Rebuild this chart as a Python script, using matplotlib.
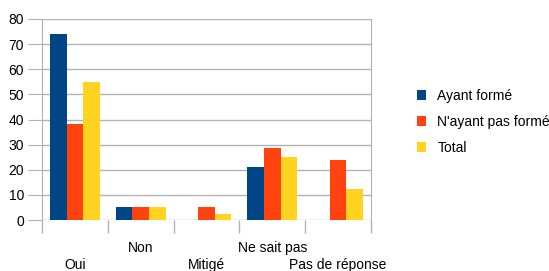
import numpy as np
import matplotlib.pyplot as plt

plt.rcParams['font.family'] = ['Liberation Sans', 'DejaVu Sans']

categories = ['Oui', 'Non', 'Mitigé', 'Ne sait pas', 'Pas de réponse']
ayant_forme = [74, 5.3, 0, 21, 0]
nayant_pas_forme = [38.3, 5, 5, 28.8, 24]
total = [55, 5, 2.5, 25, 12.4]
series_names = ['Ayant formé', "N'ayant pas formé", 'Total']
colors = ['#004586', '#ff420e', '#ffd320']

fig = plt.figure(figsize=(5.49, 2.71), dpi=100)
ax = fig.add_axes([0.0765, 0.188, 0.599, 0.742])

x = np.arange(len(categories))
w = 0.254
for i, (vals, name, c) in enumerate(zip([ayant_forme, nayant_pas_forme, total], series_names, colors)):
    ax.bar(x + (i - 1) * w, vals, w, color=c, label=name, zorder=3)

ax.set_xlim(-0.5, len(categories) - 0.5)
ax.set_ylim(0, 80)
ax.set_yticks(range(0, 81, 10))
ax.grid(axis='y', color='#b3b3b3', linewidth=1, zorder=0)
ax.tick_params(axis='y', length=10, color='#b3b3b3', labelsize=10, pad=3)

# ticks between categories, labels staggered on two rows
ax.set_xticks(np.arange(len(categories) + 1) - 0.5)
ax.set_xticklabels([])
ax.tick_params(axis='x', length=9, color='#b3b3b3', width=1)
for i, cat in enumerate(categories):
    y = -0.224 if i % 2 == 0 else -0.139
    ax.text(i, y, cat, transform=ax.get_xaxis_transform(), ha='center', va='center', fontsize=10)

for s in ['top', 'bottom']:
    ax.spines[s].set_visible(False)
for s in ['left', 'right']:
    ax.spines[s].set_color('#b3b3b3')

fig.legend(loc='center left', bbox_to_anchor=(0.736, 0.55), frameon=False, fontsize=10,
           handlelength=0.7, handleheight=0.7, handletextpad=0.8, labelspacing=0.85)

fig.savefig('out.png', dpi=100)
